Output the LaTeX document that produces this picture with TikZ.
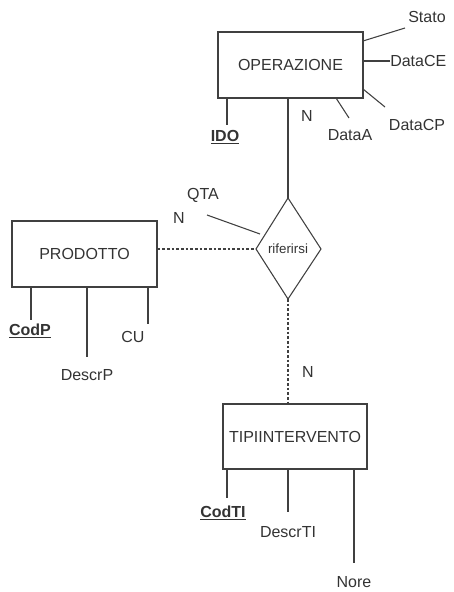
\documentclass[tikz,border=0pt]{standalone}
\usepackage{fontspec}
\setmainfont{Liberation Sans}
\usetikzlibrary{shapes.geometric}
\begin{document}
\begin{tikzpicture}[x=0.75pt,y=-0.75pt,
  every node/.style={font=\fontsize{12}{14}\selectfont, text=black!80, inner sep=0pt},
  ent/.style={draw=black!75, line width=0.8pt, rectangle},
  rel/.style={draw=black!75, line width=0.8pt, diamond, aspect=0.65},
  ln/.style={draw=black!75, line width=0.8pt},
  dln/.style={draw=black!75, line width=0.8pt, dash pattern=on 2pt off 1.5pt},
  key/.style={font=\fontsize{12}{14}\selectfont\bfseries}]
\useasboundingbox (0,0) rectangle (453,592);
% entities
\node[ent, minimum width=108.75pt, minimum height=49.5pt] (op) at (290.5,65) {OPERAZIONE};
\node[ent, minimum width=108.75pt, minimum height=49.5pt] (pr) at (84.5,254) {PRODOTTO};
\node[ent, minimum width=108pt, minimum height=48.75pt] (ti) at (295,436.5) {TIPIINTERVENTO};
% relationship
\path (288,198) coordinate (dt) (256,249) coordinate (dl) (321,249) coordinate (dr) (288,299) coordinate (db);
\draw[ln] (dt) -- (dr) -- (db) -- (dl) -- cycle;
\node[font=\fontsize{10}{12}\selectfont] (rif) at (288,249) {riferirsi};
% connections
\draw[ln] (op.south -| dt) -- (dt);
\draw[dln] (pr.east |- dl) -- (dl);
\draw[dln] (db) -- (ti.north -| db);
\node (n1) at (307,116) {N};
\node (n2) at (179,218) {N};
\node (n3) at (308,372) {N};
% OPERAZIONE attributes
\coordinate (s1) at (363,41); \coordinate (s2) at (405,28);
\draw[ln] (s1) -- (s2);
\node (stato) at (427,17) {Stato};
\coordinate (ce1) at (363,61); \coordinate (ce2) at (390,61);
\draw[ln] (ce1) -- (ce2);
\node[anchor=west] (datace) at (ce2) {DataCE};
\coordinate (cp1) at (363,89); \coordinate (cp2) at (385,107);
\draw[ln] (cp1) -- (cp2);
\node (datacp) at (417,125) {DataCP};
\coordinate (a1) at (336,98); \coordinate (a2) at (349,118);
\draw[ln] (a1) -- (a2);
\node (dataa) at (350,135) {DataA};
\coordinate (i2) at (227,125);
\draw[ln] (op.south -| i2) -- (i2);
\node[key] (ido) at (225,137) {\underline{IDO}};
% QTA
\coordinate (q1) at (207,215); \coordinate (q2) at (260,234);
\draw[ln] (q1) -- (q2);
\node (qta) at (203,195) {QTA};
% PRODOTTO attributes
\coordinate (cp) at (31,320);
\draw[ln] (pr.south -| cp) -- (cp);
\node[key] (codp) at (30,331) {\underline{CodP}};
\coordinate (dp) at (87,357);
\draw[ln] (pr.south -| dp) -- (dp);
\node (descrp) at (87,375) {DescrP};
\coordinate (cu) at (148,324);
\draw[ln] (pr.south -| cu) -- (cu);
\node (cut) at (133,337) {CU};
% TIPIINTERVENTO attributes
\coordinate (ct) at (227,498);
\draw[ln] (ti.south -| ct) -- (ct);
\node[key] (codti) at (223,513) {\underline{CodTI}};
\coordinate (dt2) at (288,512);
\draw[ln] (ti.south -| dt2) -- (dt2);
\node (descrti) at (288,532) {DescrTI};
\coordinate (no) at (354,563);
\draw[ln] (ti.south -| no) -- (no);
\node (nore) at (354,582) {Nore};
\end{tikzpicture}
\end{document}
